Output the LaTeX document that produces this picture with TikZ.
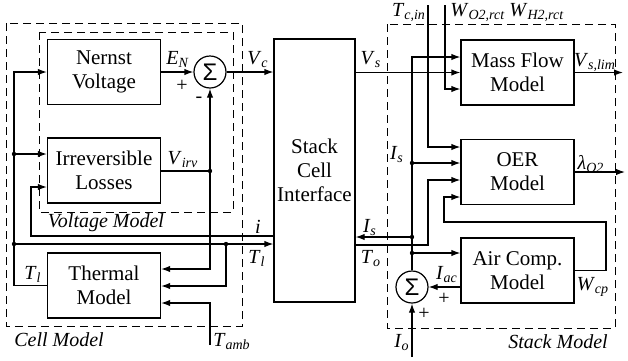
\documentclass[tikz,border=0pt]{standalone}
\usepackage{fontspec}
\setmainfont{Liberation Serif}
\newfontfamily\sumfont{Liberation Sans}
\usetikzlibrary{arrows.meta}

\newcommand{\vsub}[2]{\textit{#1}\textsubscript{\textit{#2}}}

\begin{document}
\begin{tikzpicture}[x=0.5pt,y=-0.5pt,>={Latex[length=4.5pt,width=3.2pt]},line width=0.6pt,
  block/.style={draw,align=center,inner sep=1pt,minimum width=56.5pt,minimum height=32.5pt,
    font=\fontsize{10.5}{12}\selectfont},
  sumnode/.style={draw,circle,minimum size=16pt,inner sep=0pt,font=\sumfont\fontsize{12}{12}\selectfont},
  region/.style={draw,dash pattern=on 4pt off 2.5pt,line width=0.5pt},
  jdot/.style={circle,fill,inner sep=0pt,minimum size=2.2pt},
  lbl/.style={inner sep=0pt,font=\fontsize{10}{11}\selectfont},
  regionname/.style={inner sep=0pt,font=\fontsize{10}{11}\selectfont\itshape}]
\useasboundingbox (0,0) rectangle (628,360);

% dashed regions
\draw[region] (6,23) rectangle (242,326);
\draw[region] (39,32) rectangle (233,212);
\draw[region] (387,24) rectangle (615,328);
\node[regionname] (cellname) at (59,340) {Cell Model};
\node[regionname] (voltname) at (106,223) {Voltage Model};
\node[regionname] (stackname) at (558,342) {Stack Model};

% cell model blocks
\node[block] (nernst) at (104,72) {Nernst\\Voltage};
\node[block] (irrev) at (104,170.5) {Irreversible\\Losses};
\node[block] (thermal) at (104,285.5) {Thermal\\Model};
\node[sumnode] (sumV) at (210,72) {Σ};

% interface between cell and stack
\node[block,minimum width=40.5pt,minimum height=131.5pt] (iface) at (314.5,170.5) {Stack\\Cell\\Interface};

% stack model blocks
\node[block] (massflow) at (517.5,72.5) {Mass Flow\\Model};
\node[block] (oer) at (517.5,172) {OER\\Model};
\node[block] (aircomp) at (517.5,270.5) {Air Comp.\\Model};
\node[sumnode] (sumI) at (412,287) {Σ};

% cell voltage
\draw[->] (nernst.east) -- (sumV.west);
\draw[->] (sumV.east) -- (iface.west |- sumV.east);
\node[lbl] (EN) at (178,59) {\vsub{E}{N}};
\node[lbl] (plusV) at (182,86) {+};
\node[lbl] (minusV) at (199,100) {-};
\node[lbl] (Vc) at (258,60) {\vsub{V}{c}};

% losses to sum and thermal model
\coordinate (irvdot) at (210,171);
\coordinate (irvlow) at (210,269);
\draw (irrev.east |- irvdot) -- (irvdot);
\draw[->] (irvdot) -- (sumV.south);
\draw[->] (irvdot) -- (irvlow) -- (thermal.east |- irvlow);
\node[jdot] (dirv) at (irvdot) {};
\node[lbl] (Virv) at (183,160) {\vsub{V}{irv}};

% cell temperature feedback
\coordinate (bus) at (14,0);
\coordinate (tl1) at (14,154);
\coordinate (tl2) at (14,244);
\draw[->] (thermal.west) -- (thermal.west -| bus) -- (nernst.west -| bus) -- (nernst.west);
\draw[->] (tl1) -- (irrev.west |- tl1);
\draw[->] (tl2) -- (iface.west |- tl2);
\node[jdot] (dtl1) at (tl1) {};
\node[jdot] (dtl2) at (tl2) {};
\node[lbl] (Tl1) at (33,274) {\vsub{T}{l}};
\node[lbl] (Tl2) at (257,258) {\vsub{T}{l}};

% current back to the losses
\coordinate (iturn) at (31,236);
\coordinate (iin) at (31,187);
\draw[->] (iface.west |- iturn) -- (iturn) -- (iin) -- (irrev.west |- iin);
\node[lbl] (icur) at (258,227) {\textit{i}};

% thermal model inputs
\coordinate (tdot) at (226,244);
\coordinate (tlow) at (226,286);
\draw[->] (tdot) -- (tlow) -- (thermal.east |- tlow);
\node[jdot] (dt) at (tdot) {};
\coordinate (amb) at (210,345);
\coordinate (ambturn) at (210,303);
\draw[->] (amb) -- (ambturn) -- (thermal.east |- ambturn);
\node[lbl] (Tamb) at (232,342) {\vsub{T}{amb}};

% stack voltage
\draw[->] (iface.east |- massflow.west) -- (massflow.west);
\node[lbl] (Vs) at (371,60) {\vsub{V}{s}};

% inputs from above
\coordinate (tcin) at (428,5);
\coordinate (tcturn) at (428,147);
\draw[->] (tcin) -- (tcturn) -- (oer.west |- tcturn);
\coordinate (wrct) at (445,5);
\coordinate (wturn) at (445,89);
\draw[->] (wrct) -- (wturn) -- (massflow.west |- wturn);
\node[lbl] (Tcin) at (409,13) {\vsub{T}{c,in}};
\node[lbl] (WO2) at (478,13) {\vsub{W}{O2,rct}};
\node[lbl] (WH2) at (537,13) {\vsub{W}{H2,rct}};

% stack current
\coordinate (isTop) at (412,57);
\coordinate (isOer) at (412,163);
\coordinate (isBack) at (412,237);
\coordinate (isAir) at (412,253);
\draw[->] (sumI.north) -- (isTop) -- (massflow.west |- isTop);
\draw[->] (isOer) -- (oer.west |- isOer);
\draw[->] (isBack) -- (iface.east |- isBack);
\draw[->] (isAir) -- (aircomp.west |- isAir);
\node[jdot] (dis1) at (isOer) {};
\node[jdot] (dis2) at (isBack) {};
\node[jdot] (dis3) at (isAir) {};
\node[lbl] (Is1) at (397,155) {\vsub{I}{s}};
\node[lbl] (Is2) at (370,228) {\vsub{I}{s}};

% outlet temperature
\coordinate (toturn) at (428,245);
\coordinate (toin) at (428,180);
\draw[->] (iface.east |- toturn) -- (toturn) -- (toin) -- (oer.west |- toin);
\node[lbl] (To) at (371,259) {\vsub{T}{o}};

% compressor flow
\coordinate (wc1) at (606,270.5);
\coordinate (wc2) at (606,222);
\coordinate (wc3) at (444,222);
\coordinate (wc4) at (444,197);
\draw[->] (aircomp.east) -- (wc1) -- (wc2) -- (wc3) -- (wc4) -- (oer.west |- wc4);
\node[lbl] (Wcp) at (593,287) {\vsub{W}{cp}};

% compressor and load current
\draw[->] (aircomp.west |- sumI) -- (sumI.east);
\coordinate (io) at (412,357);
\draw[->] (io) -- (sumI.south);
\node[lbl] (Iac) at (447,275) {\vsub{I}{ac}};
\node[lbl] (plusI1) at (444,299) {+};
\node[lbl] (plusI2) at (424,314) {+};
\node[lbl] (Io) at (402,343) {\vsub{I}{o}};

% outputs
\coordinate (vslim) at (623,72.5);
\coordinate (lam) at (625,172);
\draw[->] (massflow.east) -- (vslim);
\draw[->] (oer.east) -- (lam);
\node[lbl] (Vslim) at (595,63) {\vsub{V}{s,lim}};
\node[lbl] (lamO2) at (591,164) {\vsub{λ}{O2}};
\end{tikzpicture}
\end{document}
